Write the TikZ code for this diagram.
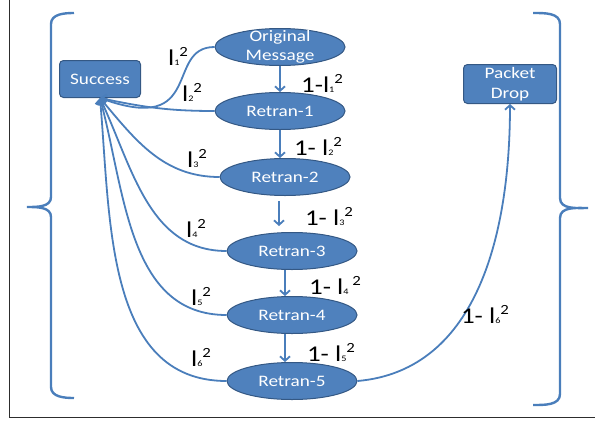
\documentclass[tikz,border=0pt]{standalone}
\definecolor{boxblue}{RGB}{79,129,189}
\definecolor{boxedge}{RGB}{52,88,132}
\definecolor{linkblue}{RGB}{74,126,187}
\definecolor{framegray}{RGB}{45,45,45}
\usepackage{fontspec}
\setmainfont{Carlito}[FakeStretch=1.2]
\usepackage{tikz}
\usetikzlibrary{shapes.geometric, arrows.meta}
\newcommand{\sbx}[1]{{\fontsize{8.5}{8.5}\selectfont #1}}
\newcommand{\spx}{\raisebox{9pt}{\fontsize{14}{14}\selectfont 2}}

\begin{document}
\begin{tikzpicture}[x=1pt, y=1pt,
    state/.style={ellipse, fill=boxblue, draw=boxedge, line width=1pt,
      minimum width=130pt, minimum height=37pt, inner sep=0pt,
      text=white, font=\fontsize{16}{19}\selectfont},
    sink/.style={rectangle, rounded corners=4pt, fill=boxblue, draw=boxedge,
      line width=1pt, inner sep=0pt, align=center,
      text=white, font=\fontsize{16}{19.5}\selectfont},
    link/.style={draw=linkblue, line width=1.8pt},
    flow/.style={link, -{Straight Barb[length=4.5pt,width=10pt]}},
    brace/.style={draw=linkblue, line width=2.4pt},
    prob/.style={inner sep=0pt, font=\fontsize{22.5}{22.5}\selectfont}]
  \useasboundingbox (0,0) rectangle (595,-421);
  \draw[framegray, line width=0.8pt] (9,0) -- (9,-417) -- (595,-417);

  % brackets
  \draw[brace] (74,-13) to[out=180,in=90] (51,-24) -- (51,-197)
    to[out=-90,in=0] (27,-207) to[out=0,in=90] (51,-217) -- (51,-387)
    to[out=-90,in=180] (74,-398);
  \draw[brace] (533,-13) to[out=0,in=90] (560,-24) -- (560,-198)
    to[out=-90,in=180] (588,-208) to[out=180,in=90] (560,-218) -- (560,-394)
    to[out=-90,in=0] (533,-405);

  % states
  \node[state] (om) at (280,-47) {};
  \node[text=white, align=center, inner sep=0pt,
    font=\fontsize{16}{19.5}\selectfont] (omtext) at (om) {Original\\Message};
  \node[state] (r1) at (280,-111) {Retran-1};
  \node[state] (r2) at (285,-177) {Retran-2};
  \node[state] (r3) at (292,-251) {Retran-3};
  \node[state] (r4) at (292,-315) {Retran-4};
  \node[state] (r5) at (292,-381) {Retran-5};
  \node[sink, minimum width=81pt, minimum height=37pt] (succ) at (100,-79) {Success};
  \node[sink, minimum width=93pt, minimum height=39pt] (drop) at (510,-84) {Packet\\Drop};

  % retransmission chain
  \draw[flow] (om.south) -- (r1.north);
  \draw[flow] (r1.south) -- (r1.south |- r2.north);
  \draw[flow] ([xshift=-6pt,yshift=-5pt]r2.south) -- ([xshift=-13pt,yshift=6pt]r3.north);
  \draw[flow] ([xshift=-7pt]r3.south) -- ([xshift=-7pt]r4.north);
  \draw[flow] ([xshift=-7pt]r4.south) -- ([xshift=-7pt]r5.north);

  % success links
  \draw[flow] (om.west) .. controls +(-50,0) and +(105,-38) .. (succ.south);
  \draw[flow] (r1.west) to[out=180,in=-12] (succ.south);
  \foreach \n/\a in {2/-50, 3/-65, 4/-75, 5/-85}
    \draw[flow] (r\n.west) to[out=180,in=\a] (succ.south);
  \draw[flow] (r5.east) to[out=5,in=-90] (drop.south);

  % probabilities
  \node[prob] (p1) at (322,-83) {1-l\sbx{1}\spx};
  \node[prob] (p2) at (318,-146) {1- l\sbx{2}\spx};
  \node[prob] (p3) at (329,-216) {1- l\sbx{3}\spx};
  \node[prob] (p4) at (335,-285) {1- l\sbx{4}\,\spx};
  \node[prob] (p5) at (331,-352) {1- l\sbx{5}\spx};
  \node[prob] (p6) at (485,-314) {1- l\sbx{6}\spx};
  \node[prob] (q1) at (178,-56) {l\sbx{1}\spx};
  \node[prob] (q2) at (192,-92) {l\sbx{2}\spx};
  \node[prob] (q3) at (197,-158) {l\sbx{3}\spx};
  \node[prob] (q4) at (196,-228) {l\sbx{4}\spx};
  \node[prob] (q5) at (201,-296) {l\sbx{5}\spx};
  \node[prob] (q6) at (201,-357) {l\sbx{6}\spx};
\end{tikzpicture}
\end{document}
